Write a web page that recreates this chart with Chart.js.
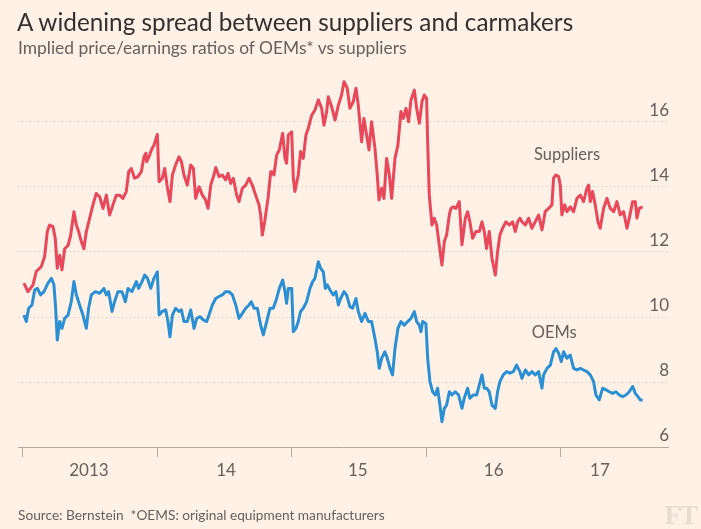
<!DOCTYPE html>
<html>
<head>
<meta charset="utf-8">
<script src="https://cdn.jsdelivr.net/npm/chart.js@4.4.1/dist/chart.umd.min.js"></script>
<style>
  html, body { margin: 0; padding: 0; background: #fff1e5; }
  #wrap { position: relative; width: 701px; height: 529px; overflow: hidden; font-family: Lato, "Open Sans", sans-serif; }
  #chart { position: absolute; left: 0; top: 0; }
  .title { position: absolute; left: 17px; top: 7px; font-size: 24.3px; color: #33302e; white-space: nowrap; }
  .subtitle { position: absolute; left: 18px; top: 37px; font-size: 17.4px; color: #66605c; white-space: nowrap; }
  .source { position: absolute; left: 18px; top: 506px; font-size: 13.7px; color: #66605c; white-space: nowrap; }
  .logo { position: absolute; right: 4px; top: 500px; font-family: "Liberation Serif", "DejaVu Serif", serif; font-weight: bold; font-size: 27px; color: #e8dcd1; letter-spacing: -1px; }
</style>
</head>
<body>
<div id="wrap">
  <canvas id="chart" width="701" height="529"></canvas>
  <div class="title">A widening spread between suppliers and carmakers</div>
  <div class="subtitle">Implied price/earnings ratios of OEMs* vs suppliers</div>
  <div class="source">Source: Bernstein&nbsp; *OEMS: original equipment manufacturers</div>
  <div class="logo">FT</div>
</div>
<script>
// dates are decimal years
var supplierDates = [
    2013.007, 2013.037, 2013.074, 2013.099, 2013.136, 2013.161, 2013.181, 2013.198, 2013.223, 2013.240,
    2013.255, 2013.273, 2013.290, 2013.310, 2013.335, 2013.354, 2013.379, 2013.397, 2013.414, 2013.434,
    2013.453, 2013.471, 2013.496, 2013.520, 2013.545, 2013.570, 2013.595, 2013.620, 2013.644, 2013.669,
    2013.694, 2013.719, 2013.743, 2013.768, 2013.786, 2013.805, 2013.830, 2013.855, 2013.880, 2013.900,
    2013.914, 2013.920, 2013.937, 2013.955, 2013.974, 2013.999,
    2014.012, 2014.036, 2014.054, 2014.073, 2014.093, 2014.111, 2014.135, 2014.160, 2014.178, 2014.197,
    2014.222, 2014.247, 2014.267, 2014.284, 2014.309, 2014.334, 2014.358, 2014.376, 2014.396, 2014.420,
    2014.433, 2014.458, 2014.482, 2014.507, 2014.525, 2014.544, 2014.564, 2014.589, 2014.606, 2014.631,
    2014.656, 2014.681, 2014.705, 2014.730, 2014.755, 2014.767, 2014.780, 2014.797, 2014.822, 2014.842,
    2014.849, 2014.866, 2014.886, 2014.906, 2014.931, 2014.948, 2014.960, 2014.973, 2014.998,
    2015.010, 2015.022, 2015.047, 2015.064, 2015.084, 2015.104, 2015.121, 2015.146, 2015.171, 2015.196,
    2015.221, 2015.238, 2015.258, 2015.270, 2015.295, 2015.320, 2015.345, 2015.369, 2015.387, 2015.411,
    2015.431, 2015.456, 2015.476, 2015.493, 2015.518, 2015.535, 2015.555, 2015.573, 2015.592, 2015.617,
    2015.634, 2015.647, 2015.667, 2015.684, 2015.704, 2015.724, 2015.741, 2015.766, 2015.788,
    2015.810, 2015.828, 2015.848, 2015.867, 2015.885, 2015.910, 2015.927, 2015.947, 2015.967, 2015.984,
    2016.001, 2016.009, 2016.021, 2016.041, 2016.058, 2016.076, 2016.095, 2016.115, 2016.133, 2016.150,
    2016.170, 2016.182, 2016.200, 2016.219, 2016.244, 2016.264, 2016.289, 2016.306, 2016.323, 2016.343,
    2016.368, 2016.393, 2016.413, 2016.430, 2016.447, 2016.467, 2016.487, 2016.512, 2016.529, 2016.546,
    2016.566, 2016.591, 2016.616, 2016.641, 2016.661, 2016.678, 2016.695,
    2016.710, 2016.735, 2016.760, 2016.784, 2016.809, 2016.834, 2016.859, 2016.883, 2016.908, 2016.933,
    2016.945, 2016.963, 2016.983, 2016.995,
    2017.007, 2017.027, 2017.045, 2017.069, 2017.094, 2017.119, 2017.144, 2017.168, 2017.193, 2017.206,
    2017.218, 2017.235, 2017.255, 2017.275, 2017.292, 2017.317, 2017.342, 2017.367, 2017.392, 2017.416,
    2017.441, 2017.466, 2017.491, 2017.508, 2017.533, 2017.553, 2017.565, 2017.582, 2017.607
];
var supplierValues = [
    11.04, 10.78, 10.98, 11.40, 11.55, 11.86, 12.63, 12.83, 12.78, 12.42,
    11.50, 11.90, 11.45, 12.10, 12.20, 12.50, 13.24, 12.83, 12.63, 12.32,
    12.10, 12.63, 13.04, 13.45, 13.80, 13.70, 13.34, 13.75, 13.14, 13.45,
    13.75, 13.75, 13.65, 13.86, 14.47, 14.57, 14.27, 14.32, 14.47, 14.93,
    15.04, 14.78, 14.93, 15.14, 15.29, 15.62,
    14.16, 14.27, 14.57, 14.01, 13.55, 14.37, 14.68, 14.93, 14.78, 14.37,
    14.06, 14.68, 14.57, 13.65, 14.01, 13.75, 13.60, 13.34, 14.06, 14.37,
    14.60, 14.32, 14.37, 14.22, 14.42, 14.11, 14.27, 13.75, 13.55, 13.96,
    14.06, 14.27, 14.06, 13.75, 13.45, 13.14, 12.52, 12.93, 13.65, 14.47,
    14.47, 14.37, 14.98, 15.14, 15.65, 14.88, 14.73, 15.60, 15.70,
    14.27, 13.86, 14.37, 15.09, 14.88, 15.60, 15.80, 16.20, 16.37, 16.68,
    16.42, 15.90, 16.32, 16.78, 16.47, 16.06, 16.52, 16.83, 17.24, 17.04,
    16.42, 16.63, 17.04, 16.52, 15.39, 16.11, 15.60, 15.14, 16.01, 15.19,
    14.37, 13.60, 13.96, 13.65, 14.88, 14.37, 13.65, 14.88, 15.29,
    16.32, 16.11, 16.42, 16.01, 16.68, 16.98, 16.42, 15.96, 16.63, 16.83,
    16.73, 15.39, 13.75, 12.83, 13.04, 12.83, 12.22, 11.60, 12.32, 12.52,
    13.14, 13.34, 13.39, 13.34, 13.55, 12.22, 13.04, 13.24, 12.93, 12.42,
    12.63, 12.63, 12.93, 12.63, 12.11, 12.63, 11.81, 11.29, 12.01, 12.52,
    12.73, 12.93, 12.83, 12.93, 12.63, 12.93, 13.04,
    12.93, 12.83, 13.04, 12.73, 12.93, 13.14, 12.68, 13.24, 13.34, 13.45,
    14.27, 14.37, 14.32, 14.06,
    13.14, 13.45, 13.24, 13.39, 13.24, 13.65, 13.75, 13.55, 13.96, 14.06,
    13.55, 13.86, 13.45, 12.93, 12.73, 13.34, 13.65, 13.34, 13.24, 13.55,
    13.14, 13.24, 12.73, 13.04, 13.55, 13.55, 13.04, 13.34, 13.39
];

var oemDates = [
    2013.007, 2013.025, 2013.042, 2013.067, 2013.087, 2013.107, 2013.131, 2013.156, 2013.186, 2013.211,
    2013.230, 2013.243, 2013.255, 2013.273, 2013.290, 2013.310, 2013.335, 2013.359, 2013.379, 2013.397,
    2013.421, 2013.446, 2013.471, 2013.488, 2013.508, 2013.538, 2013.570, 2013.602, 2013.620, 2013.637,
    2013.662, 2013.681, 2013.706, 2013.736, 2013.761, 2013.781, 2013.810, 2013.843, 2013.860, 2013.885,
    2013.905, 2013.925, 2013.950, 2013.974, 2013.999,
    2014.012, 2014.036, 2014.061, 2014.078, 2014.093, 2014.111, 2014.135, 2014.160, 2014.178, 2014.197,
    2014.222, 2014.247, 2014.272, 2014.292, 2014.316, 2014.341, 2014.366, 2014.383, 2014.408, 2014.433,
    2014.458, 2014.482, 2014.507, 2014.532, 2014.557, 2014.582, 2014.606, 2014.631, 2014.656, 2014.681,
    2014.698, 2014.718, 2014.743, 2014.767, 2014.787, 2014.812, 2014.837,
    2014.861, 2014.886, 2014.906, 2014.931, 2014.948, 2014.960, 2014.973, 2014.998,
    2015.010, 2015.030, 2015.047, 2015.064, 2015.084, 2015.109, 2015.134, 2015.154, 2015.171, 2015.196,
    2015.213, 2015.233, 2015.248, 2015.263, 2015.283, 2015.307, 2015.327, 2015.345, 2015.362, 2015.387,
    2015.406, 2015.431, 2015.451, 2015.476, 2015.493, 2015.518, 2015.543, 2015.568, 2015.592, 2015.617,
    2015.634, 2015.649, 2015.667, 2015.691, 2015.709, 2015.729, 2015.748, 2015.766, 2015.788,
    2015.810, 2015.835, 2015.860, 2015.885, 2015.910, 2015.927, 2015.947, 2015.959, 2015.972, 2015.996,
    2016.009, 2016.026, 2016.046, 2016.066, 2016.083, 2016.100, 2016.115, 2016.133, 2016.150, 2016.170,
    2016.190, 2016.214, 2016.239, 2016.264, 2016.281, 2016.306, 2016.323, 2016.348, 2016.373, 2016.393,
    2016.413, 2016.430, 2016.447, 2016.467, 2016.487, 2016.512, 2016.529, 2016.546, 2016.571, 2016.596,
    2016.621, 2016.646, 2016.670, 2016.695,
    2016.710, 2016.735, 2016.760, 2016.784, 2016.809, 2016.834, 2016.859, 2016.871, 2016.896, 2016.921,
    2016.945, 2016.963, 2016.983,
    2017.002, 2017.020, 2017.045, 2017.069, 2017.094, 2017.119, 2017.144, 2017.168, 2017.193, 2017.218,
    2017.243, 2017.260, 2017.285, 2017.310, 2017.335, 2017.359, 2017.384, 2017.409, 2017.434, 2017.458,
    2017.483, 2017.508, 2017.533, 2017.553, 2017.572, 2017.590, 2017.607
];
var oemValues = [
    10.06, 9.86, 10.27, 10.37, 10.83, 10.88, 10.68, 10.78, 11.04, 11.19,
    10.99, 10.27, 9.29, 9.86, 9.65, 9.96, 10.06, 10.47, 11.09, 10.68,
    10.37, 10.06, 9.65, 10.27, 10.68, 10.78, 10.73, 10.88, 10.68, 10.78,
    10.17, 10.47, 10.78, 10.78, 10.47, 10.88, 10.78, 11.09, 10.88, 11.09,
    11.29, 11.19, 10.88, 11.19, 11.39,
    10.06, 10.17, 10.22, 9.86, 9.39, 10.06, 10.27, 10.17, 10.22, 9.86,
    9.86, 10.22, 9.65, 9.96, 10.01, 9.91, 9.86, 10.06, 10.37, 10.57,
    10.63, 10.68, 10.78, 10.78, 10.68, 10.37, 9.96, 10.11, 10.27, 10.37,
    10.47, 10.27, 10.27, 9.75, 9.45, 9.86, 10.27,
    10.27, 10.57, 10.88, 11.14, 10.78, 10.42, 10.88, 10.88,
    9.55, 9.65, 9.86, 10.17, 10.27, 10.47, 10.88, 11.09, 11.19, 11.70,
    11.50, 11.39, 10.88, 10.99, 10.83, 10.68, 10.78, 10.37, 10.57, 10.78,
    10.68, 10.32, 10.27, 10.57, 10.17, 9.86, 10.11, 9.86, 9.86, 9.34,
    8.93, 8.42, 8.73, 8.93, 8.73, 8.42, 8.22, 9.03, 9.65,
    9.86, 9.75, 9.86, 9.96, 10.17, 9.86, 9.75, 9.55, 9.86, 9.80,
    8.73, 8.01, 7.70, 7.60, 7.81, 7.29, 6.78, 7.19, 7.29, 7.70,
    7.60, 7.70, 7.60, 7.19, 7.50, 7.81, 7.50, 7.60, 7.60, 7.91,
    8.22, 7.81, 7.81, 7.70, 7.29, 7.19, 7.70, 8.01, 8.22, 8.32,
    8.27, 8.32, 8.52, 8.32,
    8.11, 8.37, 8.22, 8.32, 8.22, 8.32, 7.81, 8.22, 8.42, 8.52,
    8.93, 9.03, 8.88,
    8.63, 8.93, 8.73, 8.83, 8.42, 8.37, 8.42, 8.37, 8.32, 8.22,
    8.01, 7.60, 7.45, 7.81, 7.76, 7.70, 7.65, 7.70, 7.60, 7.55,
    7.60, 7.70, 7.86, 7.65, 7.55, 7.45, 7.45
];

var yTicks = [6, 8, 10, 12, 14, 16];
var yearTicks = [2013, 2014, 2015, 2016, 2017];
var yearLabels = ["2013", "14", "15", "16", "17"];
var yearLabelAt = [2013.49, 2014.51, 2015.49, 2016.5, 2017.29];

// series name placed next to each line, in data units
var seriesNotes = [
    { text: "Suppliers", x: 2017.045, y: 14.98 },
    { text: "OEMs", x: 2016.95, y: 9.51 }
];

var inkGrey = "#66605c";
var axisLine = "#b3aaa1";
var FONT = "Lato, 'Open Sans', sans-serif";

function toPoints(xs, ys) {
    return xs.map((x, i) => ({ x: x, y: ys[i] }));
}

const notesPlugin = {
    id: "notes",
    afterDatasetsDraw(chart) {
        const ctx = chart.ctx;
        const xs = chart.scales.x, ys = chart.scales.y;
        ctx.save();
        ctx.font = "16.5px " + FONT;
        ctx.fillStyle = inkGrey;
        ctx.textAlign = "center";
        ctx.textBaseline = "middle";
        seriesNotes.forEach(n => {
            ctx.fillText(n.text, xs.getPixelForValue(n.x), ys.getPixelForValue(n.y));
        });
        ctx.restore();
    }
};

function isYearTick(v) {
    return yearTicks.some(t => Math.abs(t - v) < 1e-6);
}

var chart = new Chart(document.getElementById("chart"), {
    type: "line",
    data: {
        datasets: [
            {
                label: "Suppliers",
                data: toPoints(supplierDates, supplierValues),
                borderColor: "#e8485c",
                borderWidth: 3,
                pointRadius: 0,
                tension: 0,
                borderJoinStyle: "round"
            },
            {
                label: "OEMs",
                data: toPoints(oemDates, oemValues),
                borderColor: "#2b8fd3",
                borderWidth: 3,
                pointRadius: 0,
                tension: 0,
                borderJoinStyle: "round"
            }
        ]
    },
    options: {
        responsive: false,
        animation: false,
        layout: { padding: { left: 18, right: 33, top: 76.5, bottom: 42 } },
        plugins: {
            legend: { display: false },
            tooltip: { enabled: false }
        },
        scales: {
            x: {
                type: "linear",
                min: 2012.963,
                max: 2017.796,
                afterBuildTicks: (scale) => {
                    let vals = yearTicks.concat(yearLabelAt).sort((a, b) => a - b);
                    scale.ticks = vals.map(v => ({ value: v }));
                },
                afterFit: (scale) => { scale.height = 40; },
                border: { display: true, color: axisLine, width: 1 },
                grid: {
                    drawOnChartArea: false,
                    drawTicks: true,
                    tickLength: 10,
                    color: (c) => (c.tick && isYearTick(c.tick.value)) ? axisLine : "rgba(0,0,0,0)"
                },
                ticks: {
                    autoSkip: false,
                    maxRotation: 0,
                    padding: 3,
                    color: inkGrey,
                    font: { family: FONT, size: 17 },
                    callback: (value) => {
                        let i = yearLabelAt.findIndex(p => Math.abs(p - value) < 1e-6);
                        return i >= 0 ? yearLabels[i] : "";
                    }
                }
            },
            y: {
                position: "right",
                min: 6,
                max: 17.4,
                afterBuildTicks: (scale) => {
                    scale.ticks = yTicks.map(v => ({ value: v }));
                },
                afterFit: (scale) => { scale.width = 0; },
                border: { display: false, dash: [1, 3] },
                grid: {
                    drawTicks: false,
                    lineWidth: 1,
                    color: (c) => (c.tick && c.tick.value === 6) ? "rgba(0,0,0,0)" : "#c9bfb4"
                },
                ticks: {
                    mirror: true,
                    padding: 1,
                    labelOffset: -11,
                    color: inkGrey,
                    font: { family: FONT, size: 17 }
                }
            }
        }
    },
    plugins: [notesPlugin]
});
</script>
</body>
</html>
